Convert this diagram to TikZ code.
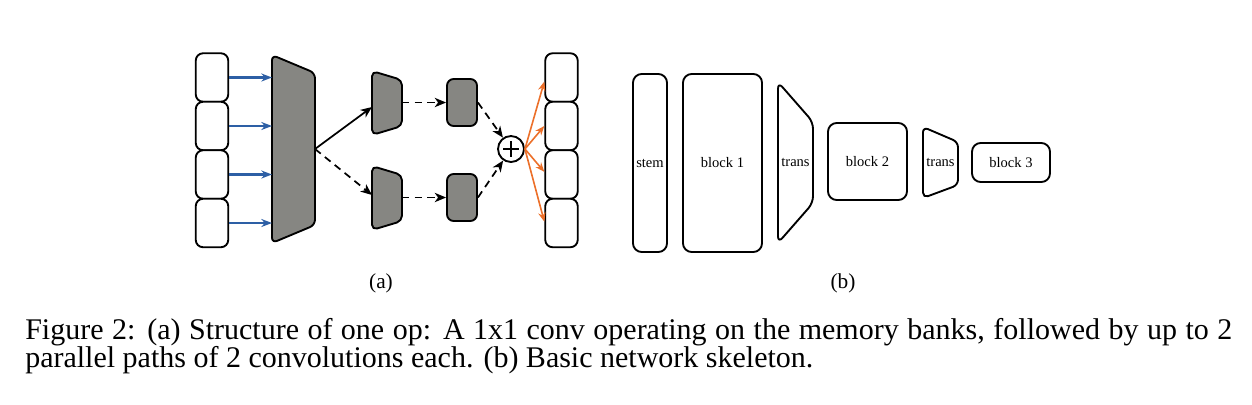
\documentclass[tikz,border=0pt]{standalone}
\usepackage{fontspec}
\setmainfont{Liberation Serif}
\usetikzlibrary{arrows.meta,calc}
\definecolor{opgray}{RGB}{134,134,130}
\definecolor{bankblue}{RGB}{45,95,165}
\definecolor{outorange}{RGB}{236,112,42}
\tikzset{
  outl/.style={draw=black, line width=1.4pt, line join=round},
  bank/.style={outl, rectangle, rounded corners=5.5pt, inner sep=0pt,
    minimum width=32.5*0.75pt, minimum height=48.5*0.75pt, fill=white},
  graybox/.style={outl, rectangle, rounded corners=5pt, inner sep=0pt,
    minimum width=30*0.75pt, minimum height=47*0.75pt, fill=opgray},
  skel/.style={outl, rectangle, rounded corners=6.5pt, inner sep=0pt, fill=white,
    font=\fontsize{10.9}{12}\selectfont},
  trapfill/.style={outl, rounded corners=4pt, fill=opgray},
  traptext/.style={inner sep=0pt, font=\fontsize{10.9}{12}\selectfont},
  bluearr/.style={draw=bankblue, line width=1.6pt, -{Stealth[length=8pt,width=6pt]}},
  blkarr/.style={draw=black, line width=1.3pt, -{Stealth[length=8.5pt,width=7pt,inset=2.5pt]}},
  dasharr/.style={blkarr, dash pattern=on 5.5pt off 4pt},
  orarr/.style={draw=outorange, line width=1.2pt, -{Stealth[length=7pt,width=5.5pt]}},
  sublabel/.style={inner sep=0pt, anchor=base, font=\fontsize{16}{19}\selectfont},
  captext/.style={inner sep=0pt, anchor=base west, font=\fontsize{22.5}{27}\selectfont},
}
\begin{document}
\begin{tikzpicture}[x=0.75pt,y=-0.75pt]
\useasboundingbox (0,0) rectangle (1252,404);
% ---------------- (a) ----------------
% memory banks (inputs)
\node[bank] (m1) at (212,77.5) {};
\node[bank] (m2) at (212,126) {};
\node[bank] (m3) at (212,174.5) {};
\node[bank] (m4) at (212,223) {};
% 1x1 conv trapezoid
\draw[trapfill] (272,55) -- (315,73) -- (315,225) -- (272,243) -- cycle;
\coordinate (convL) at (272,149);
\coordinate (convR) at (315,149);
% upper path
\draw[trapfill] (372,71) -- (402,80) -- (402,126) -- (372,135) -- cycle;
\coordinate (puL) at (372,107);
\coordinate (puR) at (402,102.5);
\node[graybox] (gu) at (462,102.5) {};
% lower path
\draw[trapfill] (372,166) -- (402,175) -- (402,221) -- (372,230) -- cycle;
\coordinate (plL) at (372,195);
\coordinate (plR) at (402,197.5);
\node[graybox] (gl) at (462,197.5) {};
% sum
\node[outl, circle, fill=white, minimum size=26*0.75pt, inner sep=0pt] (plus) at (511,149) {};
\draw[line width=1.3pt] (plus.center) ++(-8,0) -- ++(16,0);
\draw[line width=1.3pt] (plus.center) ++(0,-8) -- ++(0,16);
% memory banks (outputs)
\node[bank] (o1) at (561.5,77.5) {};
\node[bank] (o2) at (561.5,126) {};
\node[bank] (o3) at (561.5,174.5) {};
\node[bank] (o4) at (561.5,223) {};
% connectors
\foreach \i in {1,...,4} \draw[bluearr] (m\i.east) -- (m\i.east -| convL);
\draw[blkarr] (convR) -- (puL);
\draw[dasharr] (convR) -- (plL);
\draw[dasharr] (puR) -- (gu.west);
\draw[dasharr] (plR) -- (gl.west);
\draw[dasharr] (gu.east) -- (plus);
\draw[dasharr] (gl.east) -- (plus);
\draw[orarr] (plus.east) -- ([yshift=-3pt]o1.west);
\draw[orarr] (plus.east) -- (o2.west);
\draw[orarr] (plus.east) -- ([yshift=2pt]o3.west);
\draw[orarr] (plus.east) -- ([yshift=1pt]o4.west);
\node[sublabel] (la) at (381,288) {(a)};
% ---------------- (b) ----------------
\node[skel, minimum width=34*0.75pt, minimum height=178*0.75pt] (stem) at (650,163) {stem};
\node[skel, minimum width=79*0.75pt, minimum height=178*0.75pt] (b1) at (722.5,163) {block 1};
\draw[outl, rounded corners=5pt, fill=white] (778,82) -- (813,122) -- (813,203) -- (778,243) -- cycle;
\node[traptext] (t1) at (795.5,162) {trans};
\node[skel, minimum width=79*0.75pt, minimum height=77*0.75pt] (b2) at (867.5,161.5) {block 2};
\draw[outl, rounded corners=4pt, fill=white] (923,127) -- (958,142) -- (958,185) -- (923,198) -- cycle;
\node[traptext] (t2) at (940.5,162) {trans};
\node[skel, minimum width=78*0.75pt, minimum height=39*0.75pt] (b3) at (1011,162.5) {block 3};
\node[sublabel] (lb) at (843,288) {(b)};
% ---------------- caption ----------------
\node[captext] (cap1) at (25,339) {\makebox[905.25pt][s]{Figure 2: (a) Structure of one op: A 1x1 conv operating on the memory banks, followed by up to 2}};
\node[captext] (cap2) at (25,367) {parallel paths of 2 convolutions each. (b) Basic network skeleton.};
\end{tikzpicture}
\end{document}
